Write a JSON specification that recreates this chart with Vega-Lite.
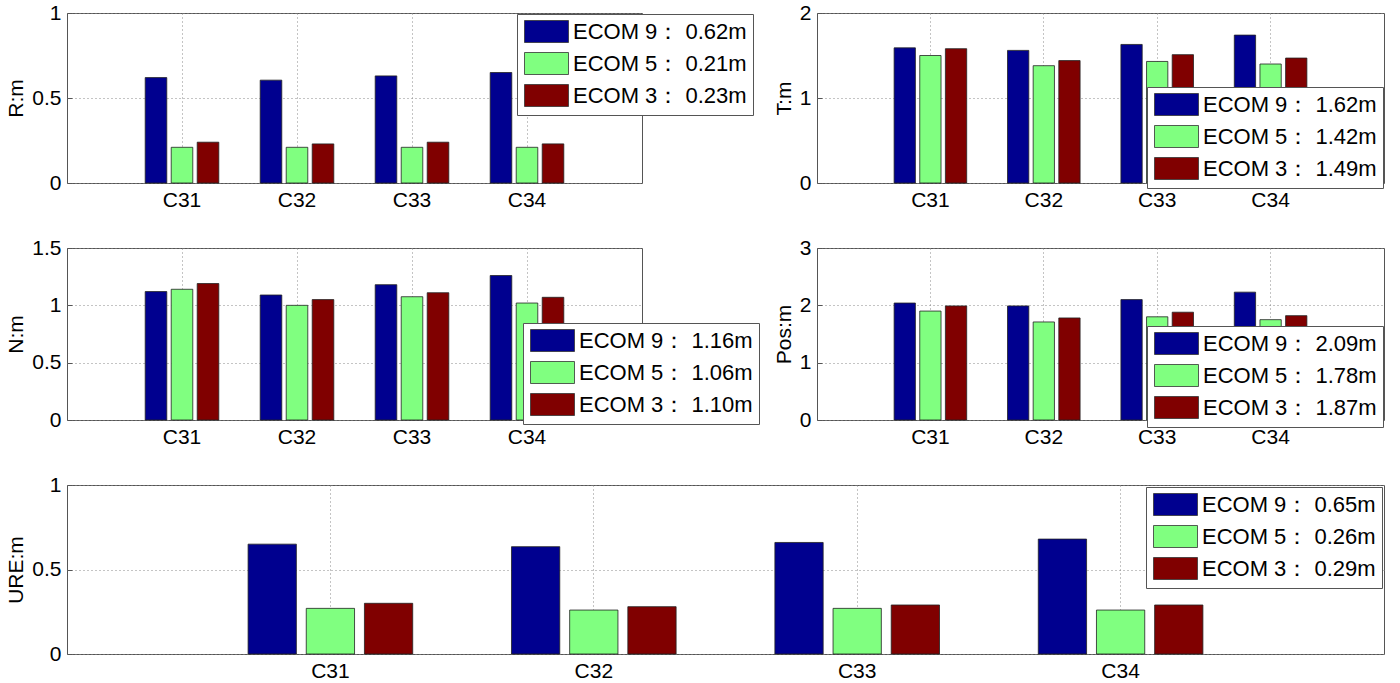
{
  "$schema": "https://vega.github.io/schema/vega-lite/v6.json",
  "background": "white",
  "padding": {"left": 5, "top": 1, "right": 0, "bottom": 0},
  "datasets": {
    "R": [
      {"site": "C31", "model": "ECOM 9", "label": "ECOM 9： 0.62m", "value": 0.62},
      {"site": "C31", "model": "ECOM 5", "label": "ECOM 5： 0.21m", "value": 0.21},
      {"site": "C31", "model": "ECOM 3", "label": "ECOM 3： 0.23m", "value": 0.24},
      {"site": "C32", "model": "ECOM 9", "label": "ECOM 9： 0.62m", "value": 0.605},
      {"site": "C32", "model": "ECOM 5", "label": "ECOM 5： 0.21m", "value": 0.21},
      {"site": "C32", "model": "ECOM 3", "label": "ECOM 3： 0.23m", "value": 0.23},
      {"site": "C33", "model": "ECOM 9", "label": "ECOM 9： 0.62m", "value": 0.63},
      {"site": "C33", "model": "ECOM 5", "label": "ECOM 5： 0.21m", "value": 0.21},
      {"site": "C33", "model": "ECOM 3", "label": "ECOM 3： 0.23m", "value": 0.24},
      {"site": "C34", "model": "ECOM 9", "label": "ECOM 9： 0.62m", "value": 0.65},
      {"site": "C34", "model": "ECOM 5", "label": "ECOM 5： 0.21m", "value": 0.21},
      {"site": "C34", "model": "ECOM 3", "label": "ECOM 3： 0.23m", "value": 0.23}
    ],
    "T": [
      {"site": "C31", "model": "ECOM 9", "label": "ECOM 9： 1.62m", "value": 1.59},
      {"site": "C31", "model": "ECOM 5", "label": "ECOM 5： 1.42m", "value": 1.5},
      {"site": "C31", "model": "ECOM 3", "label": "ECOM 3： 1.49m", "value": 1.58},
      {"site": "C32", "model": "ECOM 9", "label": "ECOM 9： 1.62m", "value": 1.56},
      {"site": "C32", "model": "ECOM 5", "label": "ECOM 5： 1.42m", "value": 1.38},
      {"site": "C32", "model": "ECOM 3", "label": "ECOM 3： 1.49m", "value": 1.44},
      {"site": "C33", "model": "ECOM 9", "label": "ECOM 9： 1.62m", "value": 1.63},
      {"site": "C33", "model": "ECOM 5", "label": "ECOM 5： 1.42m", "value": 1.43},
      {"site": "C33", "model": "ECOM 3", "label": "ECOM 3： 1.49m", "value": 1.51},
      {"site": "C34", "model": "ECOM 9", "label": "ECOM 9： 1.62m", "value": 1.74},
      {"site": "C34", "model": "ECOM 5", "label": "ECOM 5： 1.42m", "value": 1.4},
      {"site": "C34", "model": "ECOM 3", "label": "ECOM 3： 1.49m", "value": 1.47}
    ],
    "N": [
      {"site": "C31", "model": "ECOM 9", "label": "ECOM 9： 1.16m", "value": 1.12},
      {"site": "C31", "model": "ECOM 5", "label": "ECOM 5： 1.06m", "value": 1.14},
      {"site": "C31", "model": "ECOM 3", "label": "ECOM 3： 1.10m", "value": 1.19},
      {"site": "C32", "model": "ECOM 9", "label": "ECOM 9： 1.16m", "value": 1.09},
      {"site": "C32", "model": "ECOM 5", "label": "ECOM 5： 1.06m", "value": 1.0},
      {"site": "C32", "model": "ECOM 3", "label": "ECOM 3： 1.10m", "value": 1.05},
      {"site": "C33", "model": "ECOM 9", "label": "ECOM 9： 1.16m", "value": 1.18},
      {"site": "C33", "model": "ECOM 5", "label": "ECOM 5： 1.06m", "value": 1.075},
      {"site": "C33", "model": "ECOM 3", "label": "ECOM 3： 1.10m", "value": 1.11},
      {"site": "C34", "model": "ECOM 9", "label": "ECOM 9： 1.16m", "value": 1.26},
      {"site": "C34", "model": "ECOM 5", "label": "ECOM 5： 1.06m", "value": 1.02},
      {"site": "C34", "model": "ECOM 3", "label": "ECOM 3： 1.10m", "value": 1.07}
    ],
    "Pos": [
      {"site": "C31", "model": "ECOM 9", "label": "ECOM 9： 2.09m", "value": 2.04},
      {"site": "C31", "model": "ECOM 5", "label": "ECOM 5： 1.78m", "value": 1.9},
      {"site": "C31", "model": "ECOM 3", "label": "ECOM 3： 1.87m", "value": 1.99},
      {"site": "C32", "model": "ECOM 9", "label": "ECOM 9： 2.09m", "value": 1.99},
      {"site": "C32", "model": "ECOM 5", "label": "ECOM 5： 1.78m", "value": 1.71},
      {"site": "C32", "model": "ECOM 3", "label": "ECOM 3： 1.87m", "value": 1.78},
      {"site": "C33", "model": "ECOM 9", "label": "ECOM 9： 2.09m", "value": 2.1},
      {"site": "C33", "model": "ECOM 5", "label": "ECOM 5： 1.78m", "value": 1.8},
      {"site": "C33", "model": "ECOM 3", "label": "ECOM 3： 1.87m", "value": 1.88},
      {"site": "C34", "model": "ECOM 9", "label": "ECOM 9： 2.09m", "value": 2.23},
      {"site": "C34", "model": "ECOM 5", "label": "ECOM 5： 1.78m", "value": 1.75},
      {"site": "C34", "model": "ECOM 3", "label": "ECOM 3： 1.87m", "value": 1.82}
    ],
    "URE": [
      {"site": "C31", "model": "ECOM 9", "label": "ECOM 9： 0.65m", "value": 0.65},
      {"site": "C31", "model": "ECOM 5", "label": "ECOM 5： 0.26m", "value": 0.27},
      {"site": "C31", "model": "ECOM 3", "label": "ECOM 3： 0.29m", "value": 0.3},
      {"site": "C32", "model": "ECOM 9", "label": "ECOM 9： 0.65m", "value": 0.635},
      {"site": "C32", "model": "ECOM 5", "label": "ECOM 5： 0.26m", "value": 0.26},
      {"site": "C32", "model": "ECOM 3", "label": "ECOM 3： 0.29m", "value": 0.28},
      {"site": "C33", "model": "ECOM 9", "label": "ECOM 9： 0.65m", "value": 0.66},
      {"site": "C33", "model": "ECOM 5", "label": "ECOM 5： 0.26m", "value": 0.27},
      {"site": "C33", "model": "ECOM 3", "label": "ECOM 3： 0.29m", "value": 0.29},
      {"site": "C34", "model": "ECOM 9", "label": "ECOM 9： 0.65m", "value": 0.68},
      {"site": "C34", "model": "ECOM 5", "label": "ECOM 5： 0.26m", "value": 0.26},
      {"site": "C34", "model": "ECOM 3", "label": "ECOM 3： 0.29m", "value": 0.29}
    ]
  },
  "spacing": 25,
  "resolve": {"scale": {"color": "independent", "x": "independent", "xOffset": "independent", "y": "independent"}},
  "vconcat": [
    {
      "spacing": 175,
      "bounds": "flush",
      "resolve": {"scale": {"color": "independent", "x": "independent", "xOffset": "independent", "y": "independent"}},
      "hconcat": [
        {
          "width": 575,
          "height": 170,
          "data": {"name": "R"},
          "mark": "bar",
          "encoding": {
            "x": {"field": "site", "type": "nominal", "scale": {"paddingInner": 0.36, "paddingOuter": 0.68}, "axis": {"title": null, "labelAngle": 0, "grid": true, "bandPosition": 0.5}},
            "xOffset": {"field": "model", "sort": "descending", "scale": {"paddingInner": 0.17}},
            "y": {"field": "value", "type": "quantitative", "scale": {"domain": [0, 1], "nice": false}, "axis": {"title": "R:m", "values": [0, 0.5, 1], "format": ".1~f"}},
            "color": {"field": "label", "type": "nominal", "sort": "descending", "scale": {"range": ["#00008f", "#80ff80", "#800000"]}, "legend": {"legendX": 450, "legendY": 1}}
          }
        },
        {
          "width": 567,
          "height": 170,
          "data": {"name": "T"},
          "mark": "bar",
          "encoding": {
            "x": {"field": "site", "type": "nominal", "scale": {"paddingInner": 0.36, "paddingOuter": 0.68}, "axis": {"title": null, "labelAngle": 0, "grid": true, "bandPosition": 0.5}},
            "xOffset": {"field": "model", "sort": "descending", "scale": {"paddingInner": 0.17}},
            "y": {"field": "value", "type": "quantitative", "scale": {"domain": [0, 2], "nice": false}, "axis": {"title": "T:m", "values": [0, 1, 2], "format": ".1~f"}},
            "color": {"field": "label", "type": "nominal", "sort": "descending", "scale": {"range": ["#00008f", "#80ff80", "#800000"]}, "legend": {"legendX": 330, "legendY": 74}}
          }
        }
      ]
    },
    {
      "spacing": 175,
      "bounds": "flush",
      "resolve": {"scale": {"color": "independent", "x": "independent", "xOffset": "independent", "y": "independent"}},
      "hconcat": [
        {
          "width": 575,
          "height": 172,
          "data": {"name": "N"},
          "mark": "bar",
          "encoding": {
            "x": {"field": "site", "type": "nominal", "scale": {"paddingInner": 0.36, "paddingOuter": 0.68}, "axis": {"title": null, "labelAngle": 0, "grid": true, "bandPosition": 0.5}},
            "xOffset": {"field": "model", "sort": "descending", "scale": {"paddingInner": 0.17}},
            "y": {"field": "value", "type": "quantitative", "scale": {"domain": [0, 1.5], "nice": false}, "axis": {"title": "N:m", "values": [0, 0.5, 1, 1.5], "format": ".1~f"}},
            "color": {"field": "label", "type": "nominal", "sort": "descending", "scale": {"range": ["#00008f", "#80ff80", "#800000"]}, "legend": {"legendX": 456, "legendY": 75}}
          }
        },
        {
          "width": 567,
          "height": 172,
          "data": {"name": "Pos"},
          "mark": "bar",
          "encoding": {
            "x": {"field": "site", "type": "nominal", "scale": {"paddingInner": 0.36, "paddingOuter": 0.68}, "axis": {"title": null, "labelAngle": 0, "grid": true, "bandPosition": 0.5}},
            "xOffset": {"field": "model", "sort": "descending", "scale": {"paddingInner": 0.17}},
            "y": {"field": "value", "type": "quantitative", "scale": {"domain": [0, 3], "nice": false}, "axis": {"title": "Pos:m", "values": [0, 1, 2, 3], "format": ".1~f"}},
            "color": {"field": "label", "type": "nominal", "sort": "descending", "scale": {"range": ["#00008f", "#80ff80", "#800000"]}, "legend": {"legendX": 330, "legendY": 78}}
          }
        }
      ]
    },
    {
      "width": 1317,
      "height": 169,
      "data": {"name": "URE"},
      "mark": "bar",
      "encoding": {
        "x": {"field": "site", "type": "nominal", "scale": {"paddingInner": 0.375, "paddingOuter": 0.6875}, "axis": {"title": null, "labelAngle": 0, "grid": true, "bandPosition": 0.5}},
        "xOffset": {"field": "model", "sort": "descending", "scale": {"paddingInner": 0.17}},
        "y": {"field": "value", "type": "quantitative", "scale": {"domain": [0, 1], "nice": false}, "axis": {"title": "URE:m", "values": [0, 0.5, 1], "format": ".1~f"}},
        "color": {"field": "label", "type": "nominal", "sort": "descending", "scale": {"range": ["#00008f", "#80ff80", "#800000"]}, "legend": {"legendX": 1079, "legendY": 2}}
      }
    }
  ],
  "config": {
    "font": "Liberation Sans",
    "view": {"stroke": "#555", "strokeWidth": 1},
    "axis": {
      "labelFont": "Liberation Sans",
      "labelFontSize": 21,
      "labelColor": "#000",
      "titleFont": "Liberation Sans",
      "titleFontSize": 21,
      "titleFontWeight": "normal",
      "titleColor": "#000",
      "domain": false,
      "ticks": true,
      "tickSize": -5,
      "tickColor": "#555",
      "labelPadding": 11,
      "titlePadding": 5,
      "gridColor": "#888",
      "gridDash": [1, 3],
      "gridOpacity": 1
    },
    "axisY": {"grid": true},
    "bar": {"stroke": "#222", "strokeWidth": 0.8},
    "legend": {
      "orient": "none",
      "title": null,
      "direction": "vertical",
      "labelFont": "Liberation Sans",
      "labelFontSize": 22,
      "labelColor": "#000",
      "labelLimit": 400,
      "labelOffset": 15,
      "symbolType": "M-2,-1H2V1H-2Z",
      "symbolSize": 484,
      "symbolStrokeColor": "#333",
      "symbolStrokeWidth": 1,
      "symbolOpacity": 1,
      "symbolOffset": 12,
      "rowPadding": 5,
      "padding": 6,
      "fillColor": "white",
      "strokeColor": "#555",
      "cornerRadius": 0
    }
  }
}
